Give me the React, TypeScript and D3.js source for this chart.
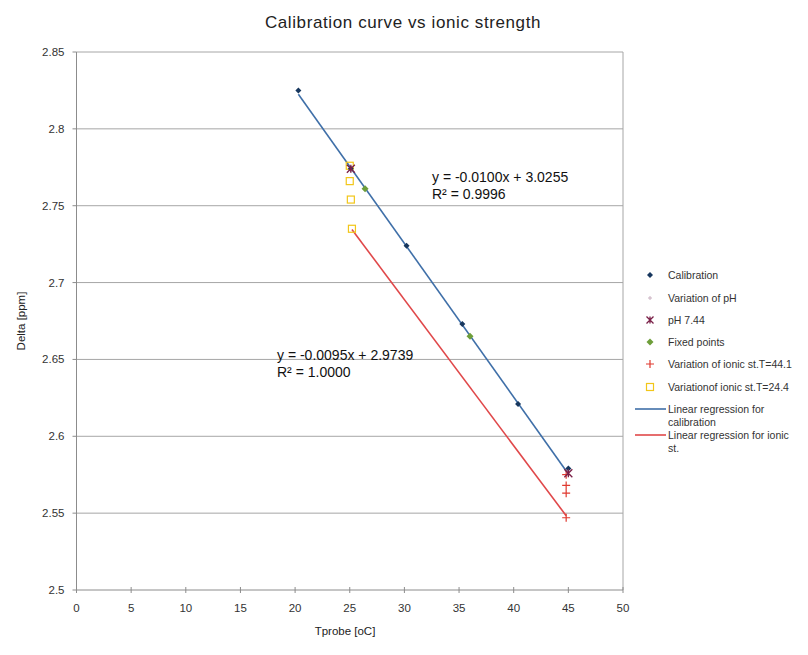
import React from "react";
import * as d3 from "d3";

const calibX = [20.3, 25.1, 30.2, 35.3, 40.4, 45.0];
const calibY = [2.825, 2.774, 2.724, 2.673, 2.621, 2.579];
const phVarX = [25.1, 45.0];
const phVarY = [2.773, 2.577];
const ph744X = [25.1, 45.0];
const ph744Y = [2.774, 2.576];
const fixedX = [26.4, 36.0];
const fixedY = [2.761, 2.665];
const ionic44X = [44.8, 44.8, 44.8, 44.8];
const ionic44Y = [2.575, 2.568, 2.563, 2.547];
const ionic24X = [25.0, 25.0, 25.1, 25.2];
const ionic24Y = [2.776, 2.766, 2.754, 2.735];
const regCalib = { slope: -0.01, intercept: 3.0255, x0: 20.3, x1: 45.0 };
const regIonic = { slope: -0.0095, intercept: 2.9739, x0: 25.2, x1: 44.8 };
const xTicks = [0, 5, 10, 15, 20, 25, 30, 35, 40, 45, 50];
const yTicks = [2.5, 2.55, 2.6, 2.65, 2.7, 2.75, 2.8, 2.85];
const legendLabels = [
  "Calibration",
  "Variation of pH",
  "pH 7.44",
  "Fixed points",
  "Variation of ionic st.T=44.1",
  "Variationof ionic st.T=24.4",
];

const FONT = "'Liberation Sans', Arial, sans-serif";

export default function App() {
  const x = d3.scaleLinear().domain([0, 50]).range([76.5, 623]);
  const y = d3.scaleLinear().domain([2.5, 2.85]).range([590, 52]);
  const line = d3.line<number>().x((d) => x(d[0])).y((d) => y(d[1]));

  const diamond = (cx: number, cy: number, r: number, fill: string, key: string) => (
    <path key={key} d={`M${cx},${cy - r}L${cx + r},${cy}L${cx},${cy + r}L${cx - r},${cy}Z`} fill={fill} />
  );
  const plus = (cx: number, cy: number, r: number, stroke: string, key: string, w = 1.2) => (
    <path key={key} d={`M${cx - r},${cy}H${cx + r}M${cx},${cy - r}V${cy + r}`} stroke={stroke} strokeWidth={w} fill="none" />
  );
  const star = (cx: number, cy: number, r: number, stroke: string, key: string) => (
    <path key={key} d={`M${cx - r},${cy - r}L${cx + r},${cy + r}M${cx - r},${cy + r}L${cx + r},${cy - r}M${cx},${cy - r}V${cy + r}`} stroke={stroke} strokeWidth={1.3} fill="none" />
  );
  const square = (cx: number, cy: number, r: number, stroke: string, key: string) => (
    <rect key={key} x={cx - r} y={cy - r} width={2 * r} height={2 * r} fill="none" stroke={stroke} strokeWidth={1.2} />
  );

  const regPts = (r: typeof regCalib) => [
    [r.x0, r.slope * r.x0 + r.intercept],
    [r.x1, r.slope * r.x1 + r.intercept],
  ] as [number, number][];

  const blue = "#17375E";
  const lineBlue = "#3F6FA8";
  const lineRed = "#E0484A";
  const red = "#E0392F";
  const yellow = "#F2C619";
  const green = "#6E9E3A";
  const starC = "#7A2048";
  const phVarC = "#C9B0C0";

  const legY = [275, 298, 320, 342, 364, 387];
  const lx = 650;
  const lfs = 10.5;

  return (
    <svg width={808} height={655} style={{ display: "block", position: "absolute", left: 0, top: 0, fontFamily: FONT }}>
      <rect width={808} height={655} fill="#fff" />
      {yTicks.slice(1).map((t) => (
        <line key={"g" + t} x1={x(0)} x2={x(50)} y1={y(t)} y2={y(t)} stroke="#a6a6a6" strokeWidth={1} />
      ))}
      <line x1={x(50)} x2={x(50)} y1={y(2.85)} y2={y(2.5)} stroke="#a6a6a6" />
      <line x1={x(0)} x2={x(0)} y1={y(2.85)} y2={y(2.5)} stroke="#8c8c8c" />
      <line x1={x(0)} x2={x(50)} y1={y(2.5)} y2={y(2.5)} stroke="#8c8c8c" />
      {xTicks.map((t) => (
        <g key={"xt" + t}>
          <line x1={x(t)} x2={x(t)} y1={y(2.5) - 3} y2={y(2.5) + 3} stroke="#8c8c8c" />
          <text x={x(t)} y={y(2.5) + 22} fontSize={11.5} textAnchor="middle" fill="#333">
            {t}
          </text>
        </g>
      ))}
      {yTicks.map((t) => (
        <g key={"yt" + t}>
          <line x1={x(0) - 4} x2={x(0)} y1={y(t)} y2={y(t)} stroke="#8c8c8c" />
          <text x={x(0) - 12} y={y(t) + 4} fontSize={11.5} textAnchor="end" fill="#333">
            {d3.format("")(+t.toFixed(2))}
          </text>
        </g>
      ))}
      <text x={403} y={28} fontSize={17} letterSpacing={0.6} textAnchor="middle" fill="#222">
        Calibration curve vs ionic strength
      </text>
      <text x={345} y={635} fontSize={11.5} textAnchor="middle" fill="#222">
        Tprobe [oC]
      </text>
      <text transform="translate(25,321) rotate(-90)" fontSize={11.5} textAnchor="middle" fill="#222">
        Delta [ppm]
      </text>

      <path d={line(regPts(regCalib)) || ""} stroke={lineBlue} strokeWidth={1.6} fill="none" />
      <path d={line(regPts(regIonic)) || ""} stroke={lineRed} strokeWidth={1.6} fill="none" />

      {ionic24X.map((v, i) => square(x(v), y(ionic24Y[i]), 3.5, yellow, "sq" + i))}
      {calibX.map((v, i) => diamond(x(v), y(calibY[i]), 3, blue, "c" + i))}
      {phVarX.map((v, i) => plus(x(v), y(phVarY[i]), 2, phVarC, "pv" + i, 1))}
      {fixedX.map((v, i) => diamond(x(v), y(fixedY[i]), 3.5, green, "f" + i))}
      {ionic44X.map((v, i) => plus(x(v), y(ionic44Y[i]), 4, red, "r" + i))}
      {ph744X.map((v, i) => star(x(v), y(ph744Y[i]), 4, starC, "s" + i))}

      <text x={432} y={182} fontSize={14} fill="#111">y = -0.0100x  + 3.0255</text>
      <text x={432} y={199} fontSize={14} fill="#111">R² = 0.9996</text>
      <text x={277} y={360} fontSize={14} fill="#111">y = -0.0095x  + 2.9739</text>
      <text x={277} y={377} fontSize={14} fill="#111">R² = 1.0000</text>

      {diamond(lx, legY[0], 3, blue, "l0")}
      {plus(lx, legY[1], 2, phVarC, "l1", 1)}
      {star(lx, legY[2], 3.5, starC, "l2")}
      {diamond(lx, legY[3], 3.5, green, "l3")}
      {plus(lx, legY[4], 4, red, "l4")}
      {square(lx, legY[5], 3.5, yellow, "l5")}
      {legendLabels.map((s, i) => (
        <text key={"lt" + i} x={668} y={legY[i] + 4} fontSize={lfs} fill="#333">
          {s}
        </text>
      ))}
      <line x1={635} x2={666} y1={409} y2={409} stroke={lineBlue} strokeWidth={1.6} />
      <text x={668} y={413} fontSize={lfs} fill="#333">Linear regression for</text>
      <text x={668} y={426} fontSize={lfs} fill="#333">calibration</text>
      <line x1={635} x2={666} y1={435} y2={435} stroke={lineRed} strokeWidth={1.6} />
      <text x={668} y={439} fontSize={lfs} fill="#333">Linear regression for ionic</text>
      <text x={668} y={452} fontSize={lfs} fill="#333">st.</text>
    </svg>
  );
}
